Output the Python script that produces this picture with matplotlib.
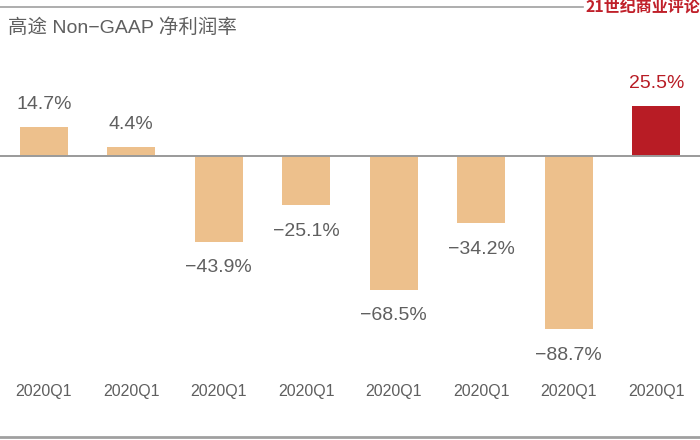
import matplotlib
matplotlib.use('Agg')
import matplotlib.pyplot as plt
from matplotlib.lines import Line2D

plt.rcParams['font.family'] = ['Liberation Sans', 'Noto Sans CJK SC', 'DejaVu Sans']

quarters = ['2020Q1'] * 8
margins = [14.7, 4.4, -43.9, -25.1, -68.5, -34.2, -88.7, 25.5]
bar_colors = ['#EDC08C'] * 7 + ['#B81C25']
label_colors = ['#5f5f5f'] * 7 + ['#B81C25']

fig = plt.figure(figsize=(7, 4.4), dpi=100)

# axes: pixel rows 50..360, zero line at row 156
px_top, px_bot, px_zero, px_per = 50, 360, 156, 1.95
ax = fig.add_axes([0, (440 - px_bot) / 440, 1, (px_bot - px_top) / 440])
ax.set_ylim(-(px_bot - px_zero) / px_per, (px_zero - px_top) / px_per)
ax.set_xlim(-0.5, 7.5)

x = range(len(margins))
ax.bar(x, margins, width=0.55, color=bar_colors, zorder=2)
ax.axhline(0, color='#9a9a9a', lw=1.4, zorder=3)

for i, v in enumerate(margins):
    txt = ('%.1f%%' % v).replace('-', '\u2212')
    off = 16.5 if v > 0 else -19
    ax.annotate(txt, (i, v), xytext=(0, off), textcoords='offset points',
                ha='center', va='center', fontsize=14, color=label_colors[i])

ax.set_xticks(list(x))
ax.set_xticklabels(quarters, fontsize=11.5, color='#5f5f5f',
                   family=['Liberation Sans Narrow', 'Liberation Sans'])
ax.tick_params(axis='x', length=0, pad=17)
ax.set_yticks([])
for s in ax.spines.values():
    s.set_visible(False)

# header and footer decorations
fig.text(0.012, 1 - 28 / 440, '高途 Non\u2212GAAP 净利润率', fontsize=14,
         color='#5f5f5f', ha='left', va='center',
         family=['Liberation Sans', 'Noto Sans CJK SC'])
fig.add_artist(Line2D([0, 583 / 700], [1 - 7 / 440] * 2, color='#a0a0a0', lw=1.2))
fig.text(1.0, 1 - 7 / 440, '21世纪商业评论', fontsize=11.5, fontweight='bold',
         color='#C0202A', ha='right', va='center',
         family=['Noto Sans CJK SC', 'DejaVu Sans'])
fig.add_artist(Line2D([0, 1], [3 / 440] * 2, color='#a0a0a0', lw=2))

fig.savefig('out.png', dpi=100)
